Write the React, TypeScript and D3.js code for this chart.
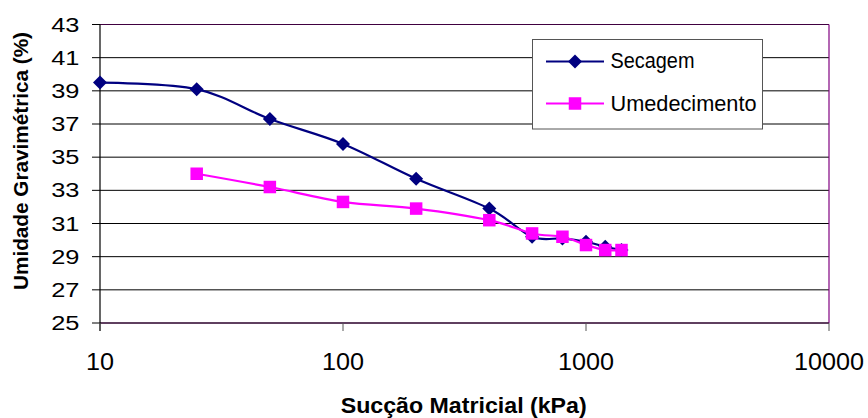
import React from "react";
import * as d3 from "d3";

const W = 868;
const H = 418;

const xTicks = [10, 100, 1000, 10000];
const yTicks = [25, 27, 29, 31, 33, 35, 37, 39, 41, 43];

const secagemSuccao = [10, 25, 50, 100, 200, 400, 600, 800, 1000, 1200, 1400];
const secagemUmidade = [39.5, 39.1, 37.3, 35.8, 33.7, 31.9, 30.2, 30.1, 29.9, 29.6, 29.4];

const umedSuccao = [25, 50, 100, 200, 400, 600, 800, 1000, 1200, 1400];
const umedUmidade = [34.0, 33.2, 32.3, 31.9, 31.2, 30.4, 30.2, 29.7, 29.4, 29.4];

const seriesNames = ["Secagem", "Umedecimento"];

export default function App() {
  const x = d3.scaleLog().domain([10, 10000]).range([100, 829]);
  const y = d3.scaleLinear().domain([25, 43]).range([323, 24.5]);

  const line = d3
    .line<[number, number]>()
    .x((d) => x(d[0]))
    .y((d) => y(d[1]))
    .curve(d3.curveCardinal.tension(0));

  const sec: [number, number][] = secagemSuccao.map((s, i) => [s, secagemUmidade[i]]);
  const ume: [number, number][] = umedSuccao.map((s, i) => [s, umedUmidade[i]]);

  const navy = "#000080";
  const magenta = "#FF00FF";
  const diamond = "M0,-7L7,0L0,7L-7,0Z";
  const sq = 12.5;
  const font = "'Liberation Sans', Arial, sans-serif";

  return (
    <svg
      width={W}
      height={H}
      style={{ position: "absolute", left: 0, top: 0, background: "#fff" }}
      fontFamily={font}
    >
      {/* gridlines */}
      {yTicks.map((t) => (
        <line key={"g" + t} x1={100} x2={829} y1={y(t)} y2={y(t)} stroke="#000" strokeWidth={1} />
      ))}
      {/* plot border */}
      <line x1={100} x2={829} y1={y(43)} y2={y(43)} stroke="#400040" strokeWidth={1} />
      <line x1={829} x2={829} y1={y(43)} y2={y(25)} stroke="#800080" strokeWidth={1.2} />
      <line x1={100} x2={829} y1={y(25)} y2={y(25)} stroke="#400040" strokeWidth={1} />
      {/* y axis */}
      <line x1={100} x2={100} y1={y(43)} y2={331} stroke="#000" strokeWidth={1.2} />
      {yTicks.map((t) => (
        <line key={"yt" + t} x1={92} x2={100} y1={y(t)} y2={y(t)} stroke="#000" strokeWidth={1} />
      ))}
      {yTicks.map((t) => (
        <text
          key={"yl" + t}
          transform={`translate(79.5,${y(t) + 7}) scale(1.27,1)`}
          textAnchor="end"
          fontSize={20}
          fill="#000"
        >
          {t}
        </text>
      ))}
      {/* x ticks */}
      {xTicks.map((t) => (
        <line key={"xt" + t} x1={x(t)} x2={x(t)} y1={y(25)} y2={331} stroke="#555" strokeWidth={1} />
      ))}
      {xTicks.map((t) => (
        <text
          key={"xl" + t}
          transform={`translate(${x(t)},369.5) scale(1.05,1)`}
          textAnchor="middle"
          fontSize={24}
          fill="#000"
        >
          {t}
        </text>
      ))}

      {/* series */}
      <path d={line(sec) || ""} fill="none" stroke={navy} strokeWidth={2.2} />
      {sec.map((d, i) => (
        <path key={"sd" + i} d={diamond} transform={`translate(${x(d[0])},${y(d[1])})`} fill={navy} />
      ))}
      <path d={line(ume) || ""} fill="none" stroke={magenta} strokeWidth={2.2} />
      {ume.map((d, i) => (
        <rect key={"us" + i} x={x(d[0]) - sq / 2} y={y(d[1]) - sq / 2} width={sq} height={sq} fill={magenta} />
      ))}

      {/* legend */}
      <rect x={532.5} y={39.5} width={230} height={89.5} fill="#fff" stroke="#555" strokeWidth={1} />
      <line x1={546} x2={604} y1={61.5} y2={61.5} stroke={navy} strokeWidth={2.2} />
      <path d={diamond} transform="translate(575,61.5)" fill={navy} />
      <text x={610.5} y={68} fontSize={21.5} fill="#000" textLength={84} lengthAdjust="spacingAndGlyphs">
        {seriesNames[0]}
      </text>
      <line x1={546} x2={604} y1={103.5} y2={103.5} stroke={magenta} strokeWidth={2.2} />
      <rect x={575 - sq / 2} y={103.5 - sq / 2} width={sq} height={sq} fill={magenta} />
      <text x={610.5} y={111} fontSize={21.5} fill="#000" textLength={146} lengthAdjust="spacingAndGlyphs">
        {seriesNames[1]}
      </text>

      {/* axis titles */}
      <text
        x={463.7}
        y={413}
        textAnchor="middle"
        fontSize={22}
        fontWeight="bold"
        fill="#000"
        textLength={246}
        lengthAdjust="spacingAndGlyphs"
      >
        Sucção Matricial (kPa)
      </text>
      <text
        transform="translate(28,161) rotate(-90)"
        textAnchor="middle"
        fontSize={21}
        fontWeight="bold"
        fill="#000"
        textLength={258}
        lengthAdjust="spacingAndGlyphs"
      >
        Umidade Gravimétrica (%)
      </text>
    </svg>
  );
}
